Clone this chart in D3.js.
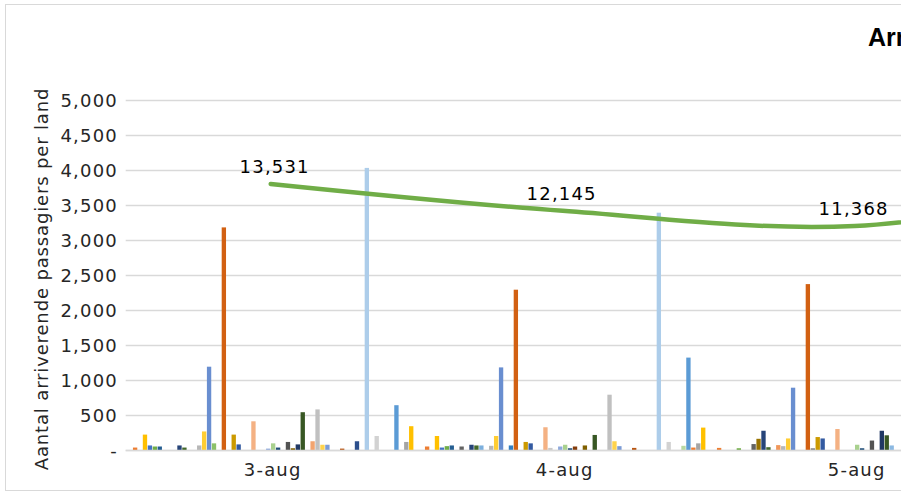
<!DOCTYPE html>
<html>
<head>
<meta charset="utf-8">
<script src="https://cdn.jsdelivr.net/npm/d3@7"></script>
<style>
  body { margin: 0; background: #fff; overflow: hidden; }
  text { font-family: "DejaVu Sans", Verdana, sans-serif; }
</style>
</head>
<body>
<div id="wrapper"></div>
<script>
// categories on the x axis (6-aug only carries the line, its bars are off the picture)
const dates = ["3-aug", "4-aug", "5-aug", "6-aug"];
const barDates = ["3-aug", "4-aug", "5-aug"];

// passengers per country (series index = position in the array)
const aug3 = [0, 35, 0, 220, 65, 50, 50, 0, 0, 0, 65, 35, 0, 0, 65, 265, 1190, 95, 0, 3180,
  0, 220, 80, 0, 0, 410, 0, 0, 20, 95, 35, 0, 115, 25, 80, 540, 0, 125, 580, 75,
  75, 0, 0, 20, 0, 0, 125, 0, 4030, 0, 200, 0, 0, 0, 640, 0, 115, 340];
const aug4 = [0, 50, 0, 200, 35, 55, 65, 0, 50, 0, 75, 65, 65, 0, 60, 200, 1180, 0, 65, 2290,
  0, 115, 95, 0, 0, 325, 30, 0, 50, 75, 25, 50, 0, 65, 0, 215, 0, 0, 790, 125,
  55, 0, 0, 30, 0, 0, 0, 0, 3390, 0, 115, 0, 0, 60, 1320, 35, 95, 320];
const aug5 = [0, 30, 0, 0, 0, 25, 0, 0, 85, 160, 275, 40, 0, 70, 55, 165, 890, 0, 0, 2370,
  25, 185, 165, 0, 0, 300, 0, 0, 0, 75, 25, 0, 135, 0, 275, 210, 65, 0];
const barValues = [aug3, aug4, aug5];

// total arriving passengers per day (secondary axis, not shown)
const totals = [13531, 12145, 11368, 13600];

const yTicks = [0, 500, 1000, 1500, 2000, 2500, 3000, 3500, 4000, 4500, 5000];

const width = 901, height = 495;
const plot = { left: 124.7, top: 100, bottom: 450, right: 901 };
const groupStep = 292;

// Excel 2013 series colours: six accents, then lighter / darker shades
const accents = ["#5B9BD5", "#ED7D31", "#A5A5A5", "#FFC000", "#4472C4", "#70AD47"];
const shades = [[1, 0], [0.6, 0], [0.8, 0.2], [0.8, 0], [0.6, 0.4], [0.5, 0], [0.7, 0.3], [0.7, 0], [0.5, 0.5]];
function seriesColor(i) {
  const c = d3.hsl(accents[i % 6]);
  const s = shades[Math.floor(i / 6) % shades.length];
  c.l = c.l * s[0] + s[1];
  return c.formatHex();
}

const svg = d3.select("#wrapper").append("svg")
  .attr("width", width)
  .attr("height", height);

// chart frame
svg.append("rect")
  .attr("x", 5.5).attr("y", 4.5)
  .attr("width", 1000).attr("height", 486)
  .attr("fill", "#fff")
  .attr("stroke", "#d9d9d9");

const seriesCount = d3.max(barValues, d => d.length);

const x0 = d3.scaleBand()
  .domain(dates)
  .range([plot.left, plot.left + groupStep * dates.length])
  .paddingInner(0.0227)
  .paddingOuter(0.01135);

const x1 = d3.scaleBand()
  .domain(d3.range(seriesCount))
  .range([0, x0.bandwidth()])
  .paddingInner(0.12);

const y = d3.scaleLinear().domain([0, 5000]).range([plot.bottom, plot.top]);
const y2 = d3.scaleLinear().domain([0, 18000]).range([plot.bottom - 3, plot.top - 3]);

// gridlines
svg.append("g")
  .selectAll("line")
  .data(yTicks)
  .join("line")
  .attr("x1", plot.left + 1).attr("x2", plot.right)
  .attr("y1", d => Math.round(y(d)) + 0.5)
  .attr("y2", d => Math.round(y(d)) + 0.5)
  .attr("stroke", "#d9d9d9")
  .attr("stroke-width", 1.5);

// y tick labels
svg.append("g")
  .selectAll("text")
  .data(yTicks)
  .join("text")
  .attr("x", 118)
  .attr("y", d => y(d) + 6.5)
  .attr("text-anchor", "end")
  .style("font-size", "18px")
  .style("letter-spacing", "1.2px")
  .attr("fill", "#262626")
  .text(d => d === 0 ? "-" : d3.format(",")(d));

// y axis title
svg.append("text")
  .attr("transform", "translate(48, 279) rotate(-90)")
  .attr("text-anchor", "middle")
  .style("font-size", "18px")
  .style("letter-spacing", "0.85px")
  .attr("fill", "#262626")
  .text("Aantal arriverende passagiers per land");

// bars
const groups = svg.append("g")
  .selectAll("g")
  .data(barDates)
  .join("g")
  .attr("transform", d => `translate(${x0(d)},0)`);

groups.selectAll("rect")
  .data((d, gi) => barValues[gi].map((v, i) => ({ i, v })).filter(e => e.v > 0))
  .join("rect")
  .attr("x", d => x1(d.i))
  .attr("width", x1.bandwidth())
  .attr("y", d => y(d.v))
  .attr("height", d => y(0) - y(d.v))
  .attr("fill", d => seriesColor(d.i));

// category axis line
svg.append("line")
  .attr("x1", plot.left + 1).attr("x2", plot.right)
  .attr("y1", plot.bottom + 0.5).attr("y2", plot.bottom + 0.5)
  .attr("stroke", "#d9d9d9")
  .attr("stroke-width", 1.5);

// category labels
svg.append("g")
  .selectAll("text")
  .data(barDates)
  .join("text")
  .attr("x", d => x0(d) + x0.bandwidth() / 2 + 2)
  .attr("y", 476)
  .attr("text-anchor", "middle")
  .style("font-size", "18px")
  .style("letter-spacing", "1.2px")
  .attr("fill", "#262626")
  .text(d => d);

// total line
const lineGen = d3.line()
  .x((d, i) => x0(dates[i]) + x0.bandwidth() / 2)
  .y(d => y2(d))
  .curve(d3.curveCatmullRom);

svg.append("path")
  .datum(totals)
  .attr("d", lineGen)
  .attr("fill", "none")
  .attr("stroke", "#70AD47")
  .attr("stroke-width", 4.5)
  .attr("stroke-linecap", "round");

// data labels only for the days inside the picture
svg.append("g")
  .selectAll("text")
  .data(totals.slice(0, barDates.length))
  .join("text")
  .attr("x", (d, i) => x0(dates[i]) + x0.bandwidth() / 2 + (i === 0 ? 4 : -1))
  .attr("y", d => y2(d) - 11)
  .attr("text-anchor", "middle")
  .style("font-size", "18px")
  .style("letter-spacing", "1.2px")
  .attr("fill", "#000")
  .text(d => d3.format(",")(d));

// title (cut off on the right like the source)
svg.append("text")
  .attr("x", 868)
  .attr("y", 46)
  .style("font-family", "'Liberation Sans Narrow', 'Liberation Sans', sans-serif")
  .style("font-weight", "bold")
  .style("font-size", "25px")
  .attr("fill", "#000")
  .text("Arriverende passagiers per dag");
</script>
</body>
</html>
